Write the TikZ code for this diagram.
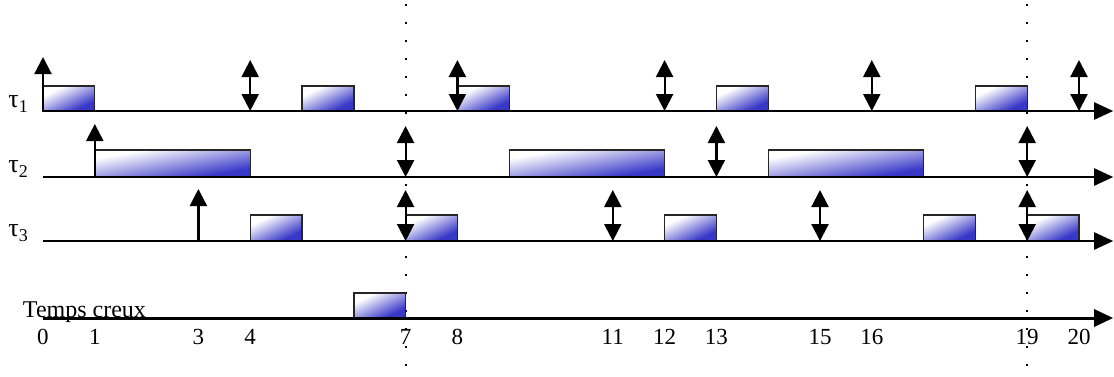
\documentclass[tikz,border=0pt]{standalone}
\usepackage{fontspec}
\setmainfont{Liberation Serif}
\usetikzlibrary{arrows.meta}
\definecolor{boxblue}{RGB}{55,55,200}
\pgfdeclarehorizontalshading{jobshade}{100bp}{color(0bp)=(white); color(30bp)=(white); color(70bp)=(boxblue); color(100bp)=(boxblue)}
\tikzset{
  axisline/.style={line width=2.4pt, -{Triangle[width=17pt,length=19pt]}},
  job/.style={draw=black!85, line width=1.4pt, shade, shading=jobshade, shading angle=#1},
  job/.default=-64,
  rel/.style={line width=2.2pt, -{Triangle[width=17pt,length=17pt]}},
  dl/.style={line width=2.2pt, {Triangle[width=17pt,length=17pt]}-{Triangle[width=17pt,length=17pt]}},
  lbl/.style={font=\fontsize{23}{23}\selectfont, inner sep=0pt},
  tlbl/.style={font=\fontsize{26}{26}\selectfont, inner sep=0pt},
  vdots/.style={line width=2.2pt, dash pattern=on 2.2pt off 15.8pt}
}
\newcommand{\tsub}[1]{τ\raisebox{-0.22em}{\fontsize{18}{18}\selectfont #1}}
\begin{document}
\begin{tikzpicture}[x=51.8pt,y=-1pt]
\useasboundingbox (-0.8301,0) rectangle (20.6757,376);
% dotted verticals
\draw[vdots] (7,4) -- (7,376);
\draw[vdots] (19,4) -- (19,376);
% tau1
\foreach \a in {0,5,8,13,18}{\path[job] (\a,86) rectangle (\a+1,111);}
% tau2
\path[job=-80] (1,150) rectangle (4,177);
\path[job=-80] (9,150) rectangle (12,177);
\path[job=-80] (14,150) rectangle (17,177);
% tau3
\foreach \a in {4,7,12,17,19}{\path[job] (\a,215) rectangle (\a+1,241);}
% idle
\path[job] (6,293) rectangle (7,318);
% axes
\coordinate (s1) at (0,111); \coordinate (e1) at (20.66,111);
\coordinate (s2) at (0,177); \coordinate (e2) at (20.66,177);
\coordinate (s3) at (0,241); \coordinate (e3) at (20.66,241);
\coordinate (s4) at (0,318); \coordinate (e4) at (20.66,318);
\draw[axisline] (s1) -- (e1);
\draw[axisline] (s2) -- (e2);
\draw[axisline] (s3) -- (e3);
\draw[axisline, line width=3pt] (s4) -- (e4);
% releases
\draw[rel] (0,111) -- (0,57);
\draw[rel] (1,177) -- (1,124);
\draw[rel] (3,241) -- (3,189);
% deadlines
\foreach \t in {4,8,12,16,20}{\draw[dl] (\t,60) -- (\t,111);}
\foreach \t in {7,13,19}{\draw[dl] (\t,126) -- (\t,177);}
\foreach \t in {7,11,15,19}{\draw[dl] (\t,190) -- (\t,241);}
% labels
\node[tlbl, anchor=base west] (l1) at (-0.67,107) {\tsub{1}};
\node[tlbl, anchor=base west] (l2) at (-0.67,172) {\tsub{2}};
\node[tlbl, anchor=base west] (l3) at (-0.67,236) {\tsub{3}};
\node[lbl, anchor=base west, font=\fontsize{24}{24}\selectfont] (lc) at (-0.39,317) {Temps creux};
\foreach \t in {0,1,3,4,7,8,11,12,13,15,16,19,20}{\node[lbl, anchor=base] (n\t) at (\t,344) {\t};}
\end{tikzpicture}
\end{document}
